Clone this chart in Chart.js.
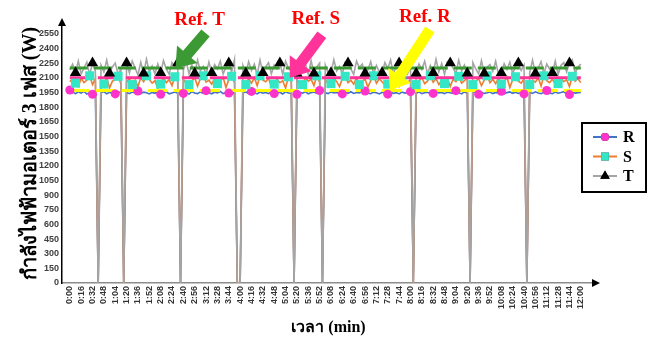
<!DOCTYPE html>
<html>
<head>
<meta charset="utf-8">
<script src="https://cdn.jsdelivr.net/npm/chart.js@4.4.1/dist/chart.umd.min.js"></script>
<style>
  html, body { margin: 0; padding: 0; background: #fff; }
  #wrap { width: 650px; height: 338px; }
</style>
</head>
<body>
<div id="wrap"><canvas id="powerChart" width="650" height="338"></canvas></div>
<script>
// one sample every 4 s, 0:00 .. 12:00
const SAMPLE_SEC = 4;

const xTickLabels = ["0:00","0:16","0:32","0:48","1:04","1:20","1:36","1:52","2:08","2:24",
  "2:40","2:56","3:12","3:28","3:44","4:00","4:16","4:32","4:48","5:04","5:20","5:36","5:52",
  "6:08","6:24","6:40","6:56","7:12","7:28","7:44","8:00","8:16","8:32","8:48","9:04","9:20",
  "9:36","9:52","10:08","10:24","10:40","10:56","11:12","11:28","11:44","12:00"];
const yTicks = [0,150,300,450,600,750,900,1050,1200,1350,1500,1650,1800,1950,2100,2250,2400,2550];

// reference levels (W)
const refR = 1970;
const refS = 2100;
const refT = 2200;

// phase R power (W)
const rPower = [
  1975,1950,1938,1956,1942,1960,1934,1948,1930,1952,
  0,1946,1958,1936,1951,1940,1935,1957,1944,0,
  1949,1937,1955,1943,1965,1939,1953,1946,1934,1950,
  1941,1959,1930,1948,1956,1936,1945,1954,1940,0,
  1940,1950,1933,1957,1945,1938,1955,1942,1968,1947,
  1936,1952,1944,1960,1938,1949,1943,1925,1953,0,
  0,1946,1955,1939,1960,1948,1935,1954,1942,1950,
  1937,1958,1938,1945,1952,1934,1956,1944,1940,0,
  1930,1951,1943,1957,1936,1948,1954,1940,1970,0,
  1947,1938,1955,1944,1950,1936,1935,1952,1941,1957,
  1939,1949,1945,1958,1965,1943,1937,1953,1946,1934,
  1951,1942,1932,1956,1940,1948,1935,1954,1943,1950,
  1958,0,1941,1955,1938,1947,1952,1936,1940,1956,
  1944,1950,1937,1953,1946,1939,1968,1948,1935,1955,
  1942,0,1949,1957,1930,1951,1940,1946,1954,1938,
  1950,1943,1962,1936,1948,1955,1941,1952,1939,1947,
  1935,0,1953,1940,1956,1944,1937,1950,1970,1945,
  1938,1954,1942,1949,1957,1936,1928,1951,1943,1948,
  1950
];

// phase S power (W)
const sPower = [
  2060,2085,2045,2010,2095,2050,2075,2120,2030,2090,
  0,2070,2035,2100,1995,2065,2080,2115,2040,0,
  2055,2090,2030,2075,2010,2100,2060,2120,2085,2045,
  2070,1990,2035,2095,2050,2080,2020,2110,2065,0,
  2085,2040,2030,2070,2100,2015,2090,2120,2055,2075,
  2035,2095,2040,2060,2105,2000,2080,2115,2050,0,
  0,2070,2030,2090,2045,2100,2020,2120,2075,2060,
  2095,2010,2035,2085,2050,2070,1995,2110,2060,0,
  2075,2045,2030,2100,2065,2085,2020,2120,2055,0,
  2080,2040,2040,2095,2060,2010,2090,2115,2050,2075,
  2035,2100,2030,2065,2085,2005,2070,2120,2045,2090,
  2060,2025,2035,2095,2055,2080,2015,2110,2070,2050,
  2085,0,2030,2070,2100,2040,2065,2120,2055,2090,
  2030,2075,2040,2095,2010,2085,2060,2115,2045,2070,
  2100,0,2030,2065,2090,2020,2075,2120,2050,2085,
  2040,2095,2035,2060,2105,2000,2080,2110,2065,2045,
  2090,0,2030,2075,2055,2100,2015,2120,2070,2050,
  2085,2035,2040,2095,2060,2080,2010,2115,2065,2090,
  2050
];

// phase T power (W)
const tPower = [
  2180,2240,2150,2270,2140,2200,2260,2130,2250,2170,
  0,2230,2160,2280,2145,2210,2250,2135,2190,0,
  2250,2150,2270,2200,2130,2260,2145,2290,2160,2220,
  2140,2240,2150,2275,2190,2135,2255,2210,2250,0,
  2180,2265,2140,2230,2145,2280,2170,2215,2135,2260,
  2150,2235,2190,2270,2140,2205,2250,2160,2285,0,
  0,2225,2145,2265,2175,2240,2130,2280,2150,2210,
  2255,2140,2230,2190,2250,2135,2270,2200,2165,0,
  2145,2260,2180,2240,2135,2275,2145,2210,2250,0,
  2230,2150,2150,2285,2170,2215,2140,2260,2250,2190,
  2135,2270,2205,2240,2145,2180,2265,2140,2225,2160,
  2150,2255,2195,2280,2135,2230,2250,2170,2260,2145,
  2215,0,2145,2240,2185,2270,2140,2225,2150,2290,
  2160,2245,2135,2265,2250,2200,2145,2280,2170,2230,
  2145,0,2255,2190,2140,2275,2145,2210,2235,2165,
  2270,2135,2150,2245,2185,2260,2140,2220,2250,2175,
  2230,0,2155,2280,2145,2200,2265,2140,2240,2190,
  2150,2270,2135,2225,2255,2160,2250,2285,2145,2210,
  2240
];

const tickSeconds = xTickLabels.map(function (l) {
  const parts = l.split(':').map(Number);
  return parts[0] * 60 + parts[1];
});
const refStart = tickSeconds[0];
const refEnd = tickSeconds[tickSeconds.length - 1];

function toPoints(values) {
  return values.map(function (v, i) { return { x: i * SAMPLE_SEC, y: v }; });
}
// markers sit on every n-th sample (not on the drops)
function markerPoints(values, every, offset) {
  return toPoints(values).filter(function (p, i) { return i % every === offset && p.y > 0; });
}

const COLORS = {
  R: '#4472c4', S: '#ed7d31', T: '#a5a5a5',
  mR: '#ff33cc', mS: '#33e6c6', mT: '#000000',
  refR: '#ffff00', refS: '#ff3399', refT: '#3c9a34'
};

const serif = '"Liberation Serif", "Times New Roman", serif';
const sans = '"Liberation Sans", Arial, sans-serif';

function drawBlockArrow(ctx, x1, y1, x2, y2, shaftW, headW, headL, color) {
  const ang = Math.atan2(y2 - y1, x2 - x1);
  const len = Math.hypot(x2 - x1, y2 - y1);
  ctx.save();
  ctx.translate(x1, y1);
  ctx.rotate(ang);
  ctx.beginPath();
  ctx.moveTo(0, -shaftW / 2);
  ctx.lineTo(len - headL, -shaftW / 2);
  ctx.lineTo(len - headL, -headW / 2);
  ctx.lineTo(len, 0);
  ctx.lineTo(len - headL, headW / 2);
  ctx.lineTo(len - headL, shaftW / 2);
  ctx.lineTo(0, shaftW / 2);
  ctx.closePath();
  ctx.fillStyle = color;
  ctx.fill();
  ctx.restore();
}

// arrows pointing at the reference lines: time (s), level, tail offset
const refNotes = [
  { text: 'Ref. T', t: 149, level: refT, dx: 30, dy: -35, color: COLORS.refT, tx: -6, ty: -13 },
  { text: 'Ref. S', t: 310, level: refS, dx: 32, dy: -43, color: COLORS.refS, tx: -6, ty: -16 },
  { text: 'Ref. R', t: 451, level: refR, dx: 40, dy: -61, color: COLORS.refR, tx: -5, ty: -12 }
];

const extrasPlugin = {
  id: 'extras',
  afterDraw: function (chart) {
    const ctx = chart.ctx;
    const xs = chart.scales.x, ys = chart.scales.y;
    const area = chart.chartArea;

    // axis arrow heads
    ctx.save();
    ctx.fillStyle = '#000';
    ctx.beginPath();
    ctx.moveTo(area.left, area.top - 6);
    ctx.lineTo(area.left - 4, area.top + 2);
    ctx.lineTo(area.left + 4, area.top + 2);
    ctx.closePath();
    ctx.fill();
    ctx.beginPath();
    ctx.moveTo(area.right + 5, area.bottom);
    ctx.lineTo(area.right - 3, area.bottom - 4);
    ctx.lineTo(area.right - 3, area.bottom + 4);
    ctx.closePath();
    ctx.fill();
    ctx.restore();

    // reference arrows + labels
    refNotes.forEach(function (n) {
      const tipX = xs.getPixelForValue(n.t);
      const tipY = ys.getPixelForValue(n.level);
      const tailX = tipX + n.dx, tailY = tipY + n.dy;
      drawBlockArrow(ctx, tailX, tailY, tipX, tipY, 11, 27, 18, n.color);
      ctx.save();
      ctx.font = 'bold 19px ' + serif;
      ctx.fillStyle = '#ff0000';
      ctx.textAlign = 'center';
      ctx.textBaseline = 'middle';
      ctx.fillText(n.text, tailX + n.tx, tailY + n.ty);
      ctx.restore();
    });

    // legend box
    const lx = 582, ly = 123, lw = 64, lh = 69;
    ctx.save();
    ctx.strokeStyle = '#000';
    ctx.lineWidth = 2;
    ctx.strokeRect(lx, ly, lw, lh);
    const entries = [
      { name: 'R', line: COLORS.R, mark: COLORS.mR, style: 'circle', r: 4 },
      { name: 'S', line: COLORS.S, mark: COLORS.mS, style: 'rect', r: 5.5 },
      { name: 'T', line: COLORS.T, mark: COLORS.mT, style: 'triangle', r: 5.5 }
    ];
    entries.forEach(function (e, i) {
      const y = ly + 14 + i * 19.5;
      ctx.strokeStyle = e.line;
      ctx.lineWidth = 2;
      ctx.beginPath();
      ctx.moveTo(lx + 11, y);
      ctx.lineTo(lx + 35, y);
      ctx.stroke();
      Chart.helpers.drawPoint(ctx, { pointStyle: e.style, radius: e.r, rotation: 0, borderWidth: 0 }, lx + 23, y);
      ctx.fillStyle = e.mark;
      ctx.fill();
      ctx.fillStyle = '#000';
      ctx.font = 'bold 16px ' + serif;
      ctx.textBaseline = 'middle';
      ctx.textAlign = 'left';
      ctx.fillText(e.name, lx + 41, y + 1);
    });
    ctx.restore();
  }
};

const lineDefaults = { pointRadius: 0, borderWidth: 1.6, tension: 0, fill: false };

new Chart(document.getElementById('powerChart'), {
  type: 'line',
  data: {
    datasets: [
      Object.assign({ label: 'R', data: toPoints(rPower), borderColor: COLORS.R, order: 9 }, lineDefaults),
      Object.assign({ label: 'S', data: toPoints(sPower), borderColor: COLORS.S, order: 8 }, lineDefaults),
      Object.assign({ label: 'T', data: toPoints(tPower), borderColor: COLORS.T, order: 7 }, lineDefaults),
      { label: 'Ref. R', data: [{ x: refStart, y: refR }, { x: refEnd, y: refR }], borderColor: COLORS.refR,
        borderWidth: 3, borderDash: [20, 6], pointRadius: 0, order: 6 },
      { label: 'Ref. S', data: [{ x: refStart, y: refS }, { x: refEnd, y: refS }], borderColor: COLORS.refS,
        borderWidth: 3, borderDash: [22, 6], pointRadius: 0, order: 5 },
      { label: 'Ref. T', data: [{ x: refStart, y: refT }, { x: refEnd, y: refT }], borderColor: COLORS.refT,
        borderWidth: 3, borderDash: [18, 6], pointRadius: 0, order: 4 },
      { label: 'R points', data: markerPoints(rPower, 8, 0), showLine: false, pointStyle: 'circle',
        pointRadius: 4.5, pointBackgroundColor: COLORS.mR, pointBorderWidth: 0, order: 3 },
      { label: 'S points', data: markerPoints(sPower, 5, 2), showLine: false, pointStyle: 'rect',
        pointRadius: 6.4, pointBackgroundColor: COLORS.mS, pointBorderWidth: 0, order: 2 },
      { label: 'T points', data: markerPoints(tPower, 6, 2), showLine: false, pointStyle: 'triangle',
        pointRadius: 6.5, pointBackgroundColor: COLORS.mT, pointBorderWidth: 0, order: 1 }
    ]
  },
  options: {
    responsive: false,
    animation: false,
    events: [],
    layout: { padding: { top: 24, right: 55, left: 0, bottom: 0 } },
    plugins: { legend: { display: false }, tooltip: { enabled: false } },
    scales: {
      x: {
        type: 'linear', min: -11, max: 740,
        afterBuildTicks: function (s) { s.ticks = tickSeconds.map(function (v) { return { value: v }; }); },
        afterFit: function (s) { s.height = 55; },
        ticks: {
          autoSkip: false, maxRotation: 90, minRotation: 90, padding: 3,
          font: { family: sans, size: 9, weight: 'bold' }, color: '#333',
          callback: function (v, i) { return xTickLabels[i]; }
        },
        grid: { display: false, drawTicks: false },
        border: { color: '#8c8c8c', width: 1.5 },
        title: { display: true, text: 'เวลา (min)', color: '#000',
          font: { family: serif, size: 16, weight: 'bold' }, padding: { top: 0, bottom: 1 } }
      },
      y: {
        min: 0, max: 2650,
        afterBuildTicks: function (s) { s.ticks = yTicks.map(function (v) { return { value: v }; }); },
        afterFit: function (s) { s.width = 62; },
        ticks: { padding: 3, font: { family: sans, size: 9, weight: 'bold' }, color: '#404040',
          callback: function (v) { return String(v); } },
        grid: { display: false, drawTicks: false },
        border: { color: '#000', width: 1.5 },
        title: { display: true, text: 'กำลังไฟฟ้ามอเตอร์ 3 เฟส (W)', color: '#000',
          font: { family: serif, size: 20, weight: 'bold' }, padding: { top: 19, bottom: 0 } }
      }
    }
  },
  plugins: [extrasPlugin]
});
</script>
</body>
</html>
